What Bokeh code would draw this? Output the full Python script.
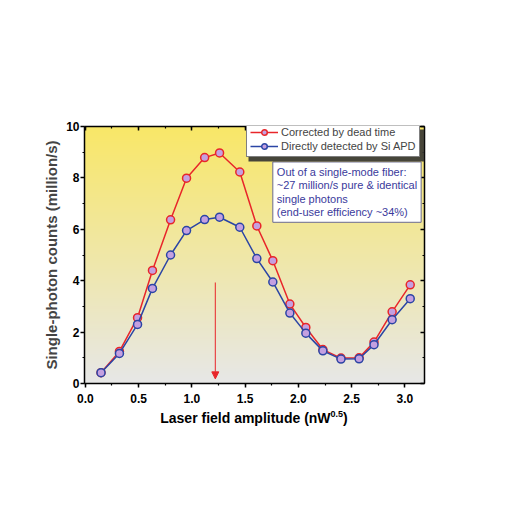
import numpy as np
from bokeh.plotting import figure
from bokeh.layouts import column
from bokeh.models import (Range1d, LinearAxis, Label, Arrow, NormalHead, Legend,
                          LegendItem, SingleIntervalTicker, NumeralTickFormatter,
                          CustomJSTickFormatter, BoxAnnotation, Div)
from bokeh.embed import file_html
from bokeh.resources import INLINE

# ---- data ----
amplitude = [0.147, 0.32, 0.49, 0.63, 0.80, 0.95, 1.12, 1.26, 1.45, 1.61,
             1.76, 1.92, 2.07, 2.23, 2.40, 2.57, 2.71, 2.88, 3.05]
corrected = [0.42, 1.25, 2.56, 4.40, 6.37, 7.99, 8.79, 8.97, 8.23, 6.13,
             4.78, 3.09, 2.18, 1.32, 0.99, 1.00, 1.61, 2.79, 3.84]
direct = [0.42, 1.17, 2.30, 3.70, 5.00, 5.95, 6.38, 6.47, 6.08, 4.86,
          3.95, 2.74, 1.96, 1.27, 0.95, 0.96, 1.51, 2.48, 3.30]
series_labels = ["Corrected by dead time", "Directly detected by Si APD"]
note_lines = ["Out of a single-mode fiber:",
              "~27 million/s pure & identical",
              "single photons",
              "(end-user efficiency ~34%)"]
x_title = "Laser field amplitude (nW"
x_title_sup = "0.5"
y_title = "Single-photon counts (million/s)"
arrow_x = 1.22
arrow_y = [3.93, 0.18]

RED = "#e8262a"
BLUE = "#2b45a5"
FILL = "#c4a0e0"
FONT = "Liberation Sans"

X0, X1 = -0.008, 3.184
Y0, Y1 = 0.0, 10.0

p = figure(width=502, height=409, output_backend="svg", toolbar_location=None,
           x_range=Range1d(X0, X1), y_range=Range1d(Y0, Y1),
           min_border_left=84, min_border_right=78,
           min_border_top=126, min_border_bottom=26)
p.grid.visible = False
p.outline_line_color = None
p.background_fill_color = "white"
p.border_fill_color = "white"

# gradient background (style only)
n = 256
top = np.array([249, 231, 104], dtype=float)
bot = np.array([231, 231, 231], dtype=float)
t = np.linspace(0, 1, n)[:, None]
cols = (bot * (1 - t) + top * t).astype(np.uint32)
img = np.zeros((n, 1), dtype=np.uint32)
view = img.view(dtype=np.uint8).reshape((n, 1, 4))
view[:, 0, 0] = cols[:, 0]
view[:, 0, 1] = cols[:, 1]
view[:, 0, 2] = cols[:, 2]
view[:, 0, 3] = 255
p.image_rgba(image=[img], x=X0, y=Y0, dw=X1 - X0, dh=Y1 - Y0)

# series
r1 = p.line(amplitude, corrected, line_color=RED, line_width=1.5)
c1 = p.scatter(amplitude, corrected, size=8, fill_color=FILL, line_color=RED, line_width=1.5)
r2 = p.line(amplitude, direct, line_color=BLUE, line_width=1.5)
c2 = p.scatter(amplitude, direct, size=8, fill_color=FILL, line_color=BLUE, line_width=1.5)

# arrow
p.add_layout(Arrow(end=NormalHead(size=7, fill_color=RED, line_color=RED),
                   x_start=arrow_x, y_start=arrow_y[0], x_end=arrow_x, y_end=arrow_y[1],
                   line_color=RED, line_width=1))

# axes
xa = p.xaxis[0]
ya = p.yaxis[0]
xa.ticker = SingleIntervalTicker(interval=0.5, num_minor_ticks=2)
ya.ticker = SingleIntervalTicker(interval=2, num_minor_ticks=2)
xa.formatter = NumeralTickFormatter(format="0.0")
for ax in (xa, ya):
    ax.axis_line_width = 1.5
    ax.axis_line_color = "black"
    ax.major_tick_out = 4
    ax.major_tick_in = 0
    ax.minor_tick_out = 2
    ax.minor_tick_in = 0
    ax.major_tick_line_width = 1.5
    ax.minor_tick_line_width = 1.2
    ax.major_label_text_font = FONT
    ax.major_label_text_font_style = "bold"
    ax.major_label_text_font_size = "12px"
    ax.major_label_text_color = "black"
xa.major_label_standoff = 6
ya.major_label_standoff = 1
ya.axis_label = y_title
ya.axis_label_text_font = FONT
ya.axis_label_text_font_style = "bold"
ya.axis_label_text_font_size = "15px"
ya.axis_label_standoff = 3

blank = CustomJSTickFormatter(code="return ''")
top_ax = LinearAxis(ticker=SingleIntervalTicker(interval=0.5, num_minor_ticks=2),
                    formatter=blank, axis_line_width=1.5,
                    major_tick_in=4, major_tick_out=0, minor_tick_in=2, minor_tick_out=0,
                    major_tick_line_width=1.5, minor_tick_line_width=1.2)
right_ax = LinearAxis(ticker=SingleIntervalTicker(interval=2, num_minor_ticks=2),
                      formatter=blank, axis_line_width=1.5,
                      major_tick_in=4, major_tick_out=0, minor_tick_in=2, minor_tick_out=0,
                      major_tick_line_width=1.5, minor_tick_line_width=1.2)
p.add_layout(top_ax, "above")
p.add_layout(right_ax, "right")

# note box
p.add_layout(Label(x=1.76, y=8.62, text="\n".join(note_lines), text_align="left",
                   text_baseline="top", text_font=FONT, text_font_size="11px",
                   text_line_height=1.12,
                   text_color="#3a3a9c", background_fill_color="white",
                   border_line_color="#6a6a90", border_line_width=1, padding=4))

# legend shadow + legend
p.add_layout(BoxAnnotation(left=164, right=340, bottom=222, top=254,
                           left_units="screen", right_units="screen",
                           bottom_units="screen", top_units="screen",
                           fill_color="#333333", fill_alpha=0.9, line_color=None))
legend = Legend(items=[LegendItem(label=series_labels[0], renderers=[r1, c1]),
                       LegendItem(label=series_labels[1], renderers=[r2, c2])],
                location=(162, 226), label_text_font=FONT, label_text_font_size="11px",
                glyph_width=28, glyph_height=14, label_height=14, spacing=0,
                padding=3, margin=0, label_standoff=3,
                border_line_color="black", border_line_width=1,
                background_fill_color="white", background_fill_alpha=1.0)
p.add_layout(legend)

title_html = ('<div style="width:340px;text-align:center;font-family:\'Liberation Sans\';'
              'font-weight:bold;font-size:14px;line-height:16px;color:black;padding-top:1px;">'
              + x_title +
              '<sup style="font-size:9px;line-height:0;vertical-align:6px;">'
              + x_title_sup + '</sup>)</div>')
div = Div(text=title_html, width=340, height=24, margin=(0, 0, 0, 84))

layout = column(p, div, spacing=0)
open("out.html", "w").write(file_html(layout, INLINE))
